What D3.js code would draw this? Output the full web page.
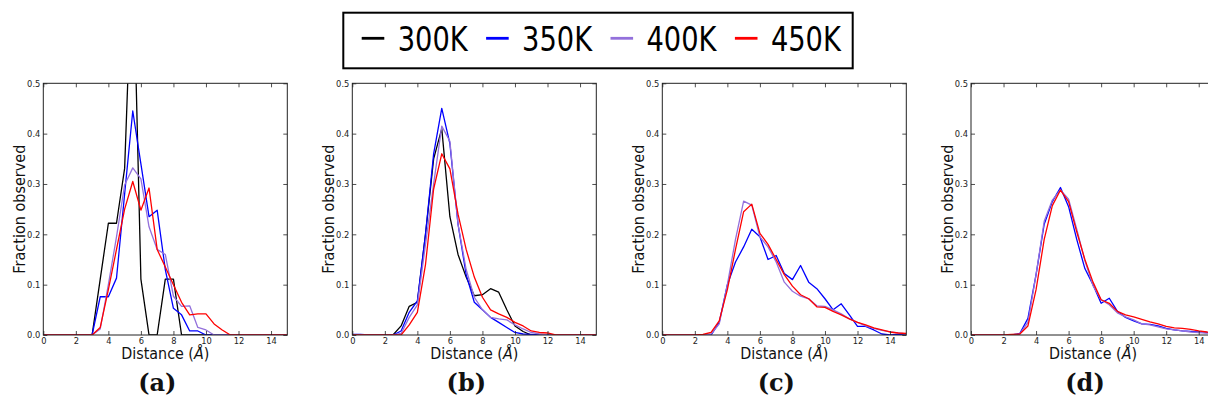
<!DOCTYPE html>
<html>
<head>
<meta charset="utf-8">
<script src="https://cdn.jsdelivr.net/npm/d3@7"></script>
<style>
  body { margin: 0; background: #fff; }
  svg { display: block; font-family: 'DejaVu Sans', sans-serif; }
</style>
</head>
<body>
<svg id="chart" width="1208" height="403"></svg>
<script>
// distance bins (Å)
const distance = [0, 0.5, 1, 1.5, 2, 2.5, 3, 3.5, 4, 4.5, 5, 5.5, 6, 6.5, 7, 7.5,
  8, 8.5, 9, 9.5, 10, 10.5, 11, 11.5, 12, 12.5, 13, 13.5, 14, 14.5, 15]

const temps = ['300K', '350K', '400K', '450K']
const colors = ['#000000', '#0000ff', '#9370db', '#ff0000']
const panelNames = ['(a)', '(b)', '(c)', '(d)']
const xTicks = [0, 2, 4, 6, 8, 10, 12, 14]
const yTicks = [0, 0.1, 0.2, 0.3, 0.4, 0.5]

const a300 = [0, 0, 0, 0, 0, 0, 0, 0.111, 0.222, 0.222, 0.331, 0.78, 0.111, 0, 0, 0.111, 0.111, 0, 0, 0, 0, 0, 0, 0, 0, 0, 0, 0, 0, 0, 0]
const a350 = [0, 0, 0, 0, 0, 0, 0, 0.076, 0.076, 0.113, 0.28, 0.445, 0.34, 0.235, 0.248, 0.13, 0.053, 0.04, 0.008, 0.008, 0, 0, 0, 0, 0, 0, 0, 0, 0, 0, 0]
const a400 = [0, 0, 0, 0, 0, 0, 0, 0.012, 0.1, 0.195, 0.298, 0.332, 0.31, 0.215, 0.17, 0.16, 0.077, 0.057, 0.058, 0.015, 0.01, 0, 0, 0, 0, 0, 0, 0, 0, 0, 0]
const a450 = [0, 0, 0, 0, 0, 0, 0, 0.015, 0.09, 0.17, 0.25, 0.305, 0.248, 0.292, 0.17, 0.135, 0.1, 0.065, 0.04, 0.042, 0.042, 0.022, 0.01, 0, 0, 0, 0, 0, 0, 0, 0]

const b300 = [0, 0, 0, 0, 0, 0, 0.018, 0.057, 0.065, 0.2, 0.35, 0.41, 0.235, 0.16, 0.115, 0.078, 0.08, 0.092, 0.085, 0.05, 0.018, 0.007, 0, 0, 0, 0, 0, 0, 0, 0, 0]
const b350 = [0.001, 0.001, 0, 0, 0, 0, 0.008, 0.045, 0.068, 0.2, 0.36, 0.45, 0.38, 0.22, 0.12, 0.065, 0.05, 0.035, 0.025, 0.015, 0.005, 0.002, 0.001, 0, 0, 0, 0, 0, 0, 0, 0]
const b400 = [0, 0, 0, 0, 0, 0, 0.003, 0.035, 0.06, 0.18, 0.3, 0.415, 0.385, 0.22, 0.13, 0.075, 0.05, 0.035, 0.032, 0.03, 0.02, 0.012, 0.005, 0.002, 0, 0, 0, 0, 0, 0, 0]
const b450 = [0, 0, 0, 0, 0, 0, 0, 0.02, 0.045, 0.14, 0.29, 0.36, 0.33, 0.24, 0.17, 0.115, 0.075, 0.05, 0.042, 0.035, 0.025, 0.018, 0.008, 0.005, 0.004, 0, 0, 0, 0, 0, 0]

const c350 = [0, 0, 0, 0, 0, 0, 0, 0.025, 0.1, 0.145, 0.175, 0.21, 0.195, 0.15, 0.158, 0.122, 0.11, 0.138, 0.105, 0.092, 0.072, 0.05, 0.062, 0.04, 0.017, 0.017, 0.01, 0.002, 0, 0.001, 0]
const c400 = [0, 0, 0, 0, 0, 0, 0.002, 0.022, 0.1, 0.19, 0.266, 0.258, 0.195, 0.175, 0.145, 0.105, 0.087, 0.077, 0.072, 0.058, 0.057, 0.05, 0.042, 0.032, 0.025, 0.018, 0.013, 0.009, 0.006, 0.004, 0.002]
const c450 = [0, 0, 0, 0, 0, 0.001, 0.005, 0.028, 0.09, 0.17, 0.245, 0.26, 0.202, 0.18, 0.15, 0.12, 0.097, 0.08, 0.072, 0.056, 0.055, 0.047, 0.04, 0.032, 0.025, 0.02, 0.014, 0.01, 0.006, 0.004, 0.003]

const d350 = [0, 0, 0, 0, 0, 0, 0.003, 0.033, 0.12, 0.22, 0.265, 0.293, 0.255, 0.19, 0.132, 0.1, 0.063, 0.073, 0.047, 0.035, 0.028, 0.022, 0.021, 0.018, 0.013, 0.01, 0.008, 0.007, 0.006, 0.005, 0.004]
const d400 = [0, 0, 0, 0, 0, 0, 0.002, 0.025, 0.12, 0.226, 0.268, 0.288, 0.27, 0.21, 0.148, 0.098, 0.07, 0.06, 0.044, 0.036, 0.03, 0.022, 0.02, 0.016, 0.012, 0.01, 0.008, 0.006, 0.005, 0.004, 0.003]
const d450 = [0, 0, 0, 0, 0, 0.001, 0.002, 0.018, 0.09, 0.19, 0.257, 0.288, 0.265, 0.205, 0.15, 0.105, 0.07, 0.063, 0.047, 0.04, 0.036, 0.031, 0.026, 0.022, 0.017, 0.014, 0.013, 0.011, 0.008, 0.006, 0.005]

// one entry per temperature, null where a panel has no curve
const panels = [
  [a300, a350, a400, a450],
  [b300, b350, b400, b450],
  [null, c350, c400, c450],
  [null, d350, d400, d450]
]

const svg = d3.select('#chart')
const panelLeft = [43.3, 352.3, 662.3, 971]
const plotTop = 83.3
const pw = 244
const ph = 251.7
const ink = '#222'

const x = d3.scaleLinear().domain([0, 15]).range([0, pw])
const y = d3.scaleLinear().domain([0, 0.5]).range([ph, 0])

const line = d3.line()
  .x((d, i) => x(distance[i]))
  .y(d => y(d))

const translate = (a, b) => 'translate(' + a + ',' + b + ')'

svg.append('defs').append('clipPath')
  .attr('id', 'plot-clip')
  .append('rect')
  .attr('width', pw)
  .attr('height', ph)

panels.forEach((series, p) => {
  const g = svg.append('g').attr('transform', translate(panelLeft[p], plotTop))

  const lines = g.append('g').attr('clip-path', 'url(#plot-clip)')
  series.forEach((values, k) => {
    if (!values) return
    lines.append('path')
      .datum(values)
      .attr('d', line)
      .attr('fill', 'none')
      .attr('stroke', colors[k])
      .attr('stroke-width', 1.3)
      .attr('stroke-linejoin', 'round')
  })

  // ticks on all four sides, pointing inward
  const bottom = g.append('g').attr('transform', translate(0, ph))
    .call(d3.axisBottom(x).tickValues(xTicks).tickFormat(d3.format('d')).tickSizeInner(-4).tickSizeOuter(0).tickPadding(3))
  const left = g.append('g')
    .call(d3.axisLeft(y).tickValues(yTicks).tickFormat(d3.format('.1f')).tickSizeInner(-4).tickSizeOuter(0).tickPadding(3))
  g.append('g')
    .call(d3.axisTop(x).tickValues(xTicks).tickFormat('').tickSizeInner(-4).tickSizeOuter(0))
  g.append('g').attr('transform', translate(pw, 0))
    .call(d3.axisRight(y).tickValues(yTicks).tickFormat('').tickSizeInner(-4).tickSizeOuter(0))

  g.selectAll('.domain').remove()
  g.selectAll('.tick line').attr('stroke', ink).attr('stroke-width', 0.8)
  g.selectAll('.tick text')
    .attr('fill', ink)
    .style('font-size', '8.3px')
    .style('font-family', "'DejaVu Sans', sans-serif")
  bottom.selectAll('.tick text').attr('dy', '0.75em')
  left.selectAll('.tick text').attr('dy', '0.35em')

  g.append('rect')
    .attr('width', pw)
    .attr('height', ph)
    .attr('fill', 'none')
    .attr('stroke', ink)
    .attr('stroke-width', 1)

  const xlab = g.append('text')
    .attr('x', pw / 2)
    .attr('y', ph + 24.5)
    .attr('text-anchor', 'middle')
    .attr('textLength', 88)
    .attr('lengthAdjust', 'spacingAndGlyphs')
    .style('font-size', '16px')
    .attr('fill', '#111')
  xlab.append('tspan').text('Distance (')
  xlab.append('tspan').style('font-style', 'italic').text('Å')
  xlab.append('tspan').text(')')

  g.append('text')
    .attr('transform', translate(-18.3, ph / 2) + ' rotate(-90)')
    .attr('text-anchor', 'middle')
    .attr('textLength', 129)
    .attr('lengthAdjust', 'spacingAndGlyphs')
    .style('font-size', '15.5px')
    .attr('fill', '#111')
    .text('Fraction observed')

  g.append('text')
    .attr('x', pw / 2 - 8)
    .attr('y', ph + 56.5)
    .attr('text-anchor', 'middle')
    .style('font-family', "'DejaVu Serif', serif")
    .style('font-weight', 'bold')
    .style('font-size', '24px')
    .attr('fill', '#111')
    .text(panelNames[p])
})

// legend
const legend = svg.append('g')
legend.append('rect')
  .attr('x', 343.3)
  .attr('y', 12.7)
  .attr('width', 509.4)
  .attr('height', 55.6)
  .attr('fill', '#fff')
  .attr('stroke', '#000')
  .attr('stroke-width', 2)

temps.forEach((t, i) => {
  const ox = 361.7 + i * 124.4
  legend.append('line')
    .attr('x1', ox)
    .attr('x2', ox + 22.6)
    .attr('y1', 38.3)
    .attr('y2', 38.3)
    .attr('stroke', colors[i])
    .attr('stroke-width', 2.8)
  legend.append('text')
    .attr('x', ox + 36)
    .attr('y', 50.5)
    .attr('textLength', 70)
    .attr('lengthAdjust', 'spacingAndGlyphs')
    .style('font-size', '33px')
    .attr('fill', '#000')
    .text(t)
})
</script>
</body>
</html>
